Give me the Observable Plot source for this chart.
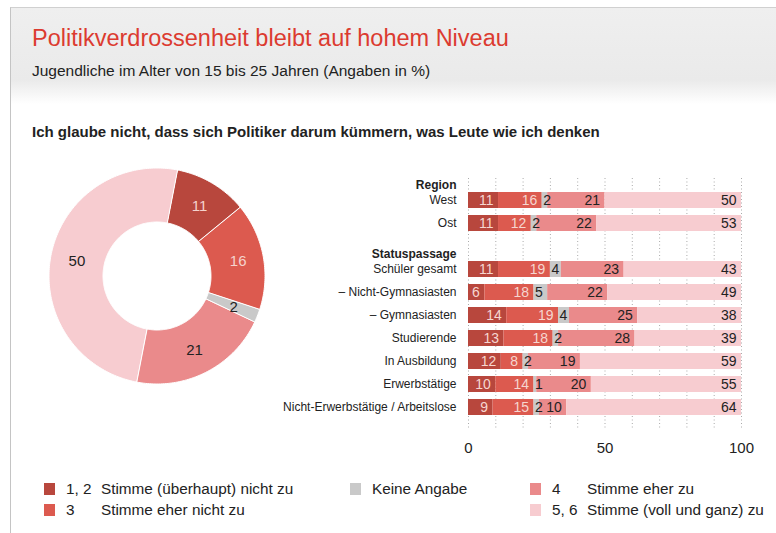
<!DOCTYPE html>
<html><head><meta charset="utf-8">
<script src="https://cdn.jsdelivr.net/npm/d3@7"></script>
<script src="https://cdn.jsdelivr.net/npm/@observablehq/plot@0.6"></script>
<style>
body{margin:0;width:776px;height:533px;position:relative;overflow:hidden;background:#fff;font-family:"Liberation Sans",Arial,sans-serif;color:#222}
#frame{position:absolute;left:10px;top:7px;right:-2px;bottom:-2px;border-left:1px solid #c4c4c4;border-top:1px solid #d0d0d0}
#band{position:absolute;left:11px;top:8px;right:0;height:96px;background:linear-gradient(to bottom,#efefef 0%,#eaeaea 75%,#fff 100%)}
#title{position:absolute;left:32px;top:25px;font-size:23.5px;color:#dc3b30;white-space:nowrap}
#subtitle{position:absolute;left:32px;top:62px;font-size:15.5px;white-space:nowrap}
#question{position:absolute;left:32px;top:123px;font-size:15px;font-weight:bold;white-space:nowrap}
#donut{position:absolute;left:45px;top:164px}
#bars{position:absolute;left:260px;top:170px}
.leg{position:absolute;font-size:15.3px;white-space:nowrap;line-height:16px}
.sw{position:absolute;width:11px;height:12px}
</style></head><body>
<div id="frame"></div>
<div id="band"></div>
<div id="title">Politikverdrossenheit bleibt auf hohem Niveau</div>
<div id="subtitle">Jugendliche im Alter von 15 bis 25 Jahren (Angaben in %)</div>
<div id="question">Ich glaube nicht, dass sich Politiker darum kümmern, was Leute wie ich denken</div>
<div id="donut"></div>
<div id="bars"></div>
<div id="legend"></div>
<script>
// ---- data ----
const categories = ["1, 2 Stimme (überhaupt) nicht zu", "3 Stimme eher nicht zu", "Keine Angabe", "4 Stimme eher zu", "5, 6 Stimme (voll und ganz) zu"];
const colors = ["#b8473d", "#dc5a4f", "#c9c9c9", "#ea8a8b", "#f7ccd0"];
const totalValues = [11, 16, 2, 21, 50];

const rows = ["West", "Ost", "Schüler gesamt", "– Nicht-Gymnasiasten", "– Gymnasiasten", "Studierende", "In Ausbildung", "Erwerbstätige", "Nicht-Erwerbstätige / Arbeitslose"];
const s12 = [11, 11, 11, 6, 14, 13, 12, 10, 9];
const s3  = [16, 12, 19, 18, 19, 18, 8, 14, 15];
const ska = [2, 2, 4, 5, 4, 2, 2, 1, 2];
const s4  = [21, 22, 23, 22, 25, 28, 19, 20, 10];
const s56 = [50, 53, 43, 49, 38, 39, 59, 55, 64];
const headers = ["Region", "Statuspassage"];
const headerRows = ["West", "Schüler gesamt"];
const yDomain = ["West", "Ost", " ", "Schüler gesamt", "– Nicht-Gymnasiasten", "– Gymnasiasten", "Studierende", "In Ausbildung", "Erwerbstätige", "Nicht-Erwerbstätige / Arbeitslose"];
const xTicks = [0, 50, 100];
const legendCodes = ["1, 2", "3", "", "4", "5, 6"];
const legendTexts = ["Stimme (überhaupt) nicht zu", "Stimme eher nicht zu", "Keine Angabe", "Stimme eher zu", "Stimme (voll und ganz) zu"];

const font = '"Liberation Sans", Arial, sans-serif';

// ---- donut ----
const startDeg = 11;
const slices = [];
const ring = [];
let acc = 0;
totalValues.forEach((v, i) => {
  const a0 = startDeg + acc * 3.6, a1 = startDeg + (acc + v) * 3.6;
  const n = Math.max(2, Math.ceil((a1 - a0) / 1));
  for (let k = 0; k <= n; k++) {
    const a = (a0 + (a1 - a0) * k / n) * Math.PI / 180;
    ring.push({cat: categories[i], ox: Math.sin(a), oy: Math.cos(a), ix: 0.5 * Math.sin(a), iy: 0.5 * Math.cos(a)});
  }
  const m = ((a0 + a1) / 2) * Math.PI / 180;
  slices.push({cat: categories[i], value: v, lx: 0.76 * Math.sin(m), ly: 0.76 * Math.cos(m), light: i < 2});
  acc += v;
});

const donut = Plot.plot({
  width: 224, height: 224, margin: 4,
  x: {domain: [-1, 1], axis: null},
  y: {domain: [-1, 1], axis: null},
  color: {domain: categories, range: colors},
  style: {fontFamily: font, background: "transparent"},
  marks: [
    Plot.area(ring, {x1: "ox", y1: "oy", x2: "ix", y2: "iy", z: "cat", fill: "cat", stroke: "#fff", strokeWidth: 1, curve: "linear"}),
    Plot.text(slices, {x: "lx", y: "ly", text: d => String(d.value), fill: d => d.light ? "#f5d3cd" : "#222", fontSize: 15})
  ]
});
document.getElementById("donut").appendChild(donut);

// ---- bars ----
const series = [s12, s3, ska, s4, s56];
const table = [];
rows.forEach((r, i) => {
  let c = 0;
  categories.forEach((k, j) => {
    const v = series[j][i];
    table.push({row: r, cat: k, idx: j, value: v, x1: c, x2: c + v});
    c += v;
  });
});

const bars = Plot.plot({
  width: 516, height: 290,
  marginLeft: 208, marginRight: 35, marginTop: 8, marginBottom: 30,
  x: {domain: [0, 100], ticks: xTicks, tickSize: 0, tickPadding: 12, label: null},
  y: {domain: yDomain, range: [20, 246], paddingInner: 0.314, paddingOuter: 0, axis: null},
  color: {domain: categories, range: colors},
  style: {fontFamily: font, fontSize: "15px", color: "#222", background: "transparent"},
  marks: [
    Plot.ruleX(d3.range(0, 101, 10), {stroke: "#aaa", strokeDasharray: "1,2.5", strokeWidth: 1}),
    Plot.barX(table, {x1: "x1", x2: "x2", y: "row", fill: "cat"}),
    Plot.text(table.filter(d => d.idx < 2), {x: "x2", y: "row", text: d => String(d.value), textAnchor: "end", dx: -5, fill: "#f6d6d0", fontSize: 14}),
    Plot.text(table.filter(d => d.idx === 2), {x: "x1", y: "row", text: d => String(d.value), textAnchor: "start", dx: 1, fill: "#222", fontSize: 14}),
    Plot.text(table.filter(d => d.idx > 2), {x: "x2", y: "row", text: d => String(d.value), textAnchor: "end", dx: -5, fill: "#222", fontSize: 14}),
    Plot.text(rows, {y: d => d, text: d => d, frameAnchor: "left", dx: -12, textAnchor: "end", fill: "#222", fontSize: 12}),
    Plot.text(headers, {y: (d, i) => headerRows[i], text: d => d, frameAnchor: "left", dx: -12, dy: -15, textAnchor: "end", fill: "#222", fontSize: 12, fontWeight: "bold"})
  ]
});
document.getElementById("bars").appendChild(bars);

// ---- legend ----
const legPos = [[44, 483], [44, 504], [350, 483], [530, 483], [530, 504]];
const legIdx = [0, 1, 2, 3, 4];
const legend = document.getElementById("legend");
legIdx.forEach((j, n) => {
  const [x, y] = legPos[n];
  const sw = document.createElement("div");
  sw.className = "sw"; sw.style.left = x + "px"; sw.style.top = y + "px"; sw.style.background = colors[j];
  legend.appendChild(sw);
  if (legendCodes[j]) {
    const c = document.createElement("div");
    c.className = "leg"; c.style.left = (x + 22) + "px"; c.style.top = (y - 2) + "px"; c.textContent = legendCodes[j];
    legend.appendChild(c);
  }
  const t = document.createElement("div");
  t.className = "leg"; t.style.left = (x + (legendCodes[j] ? 57 : 22)) + "px"; t.style.top = (y - 2) + "px"; t.textContent = legendTexts[j];
  legend.appendChild(t);
});
</script>
</body></html>
